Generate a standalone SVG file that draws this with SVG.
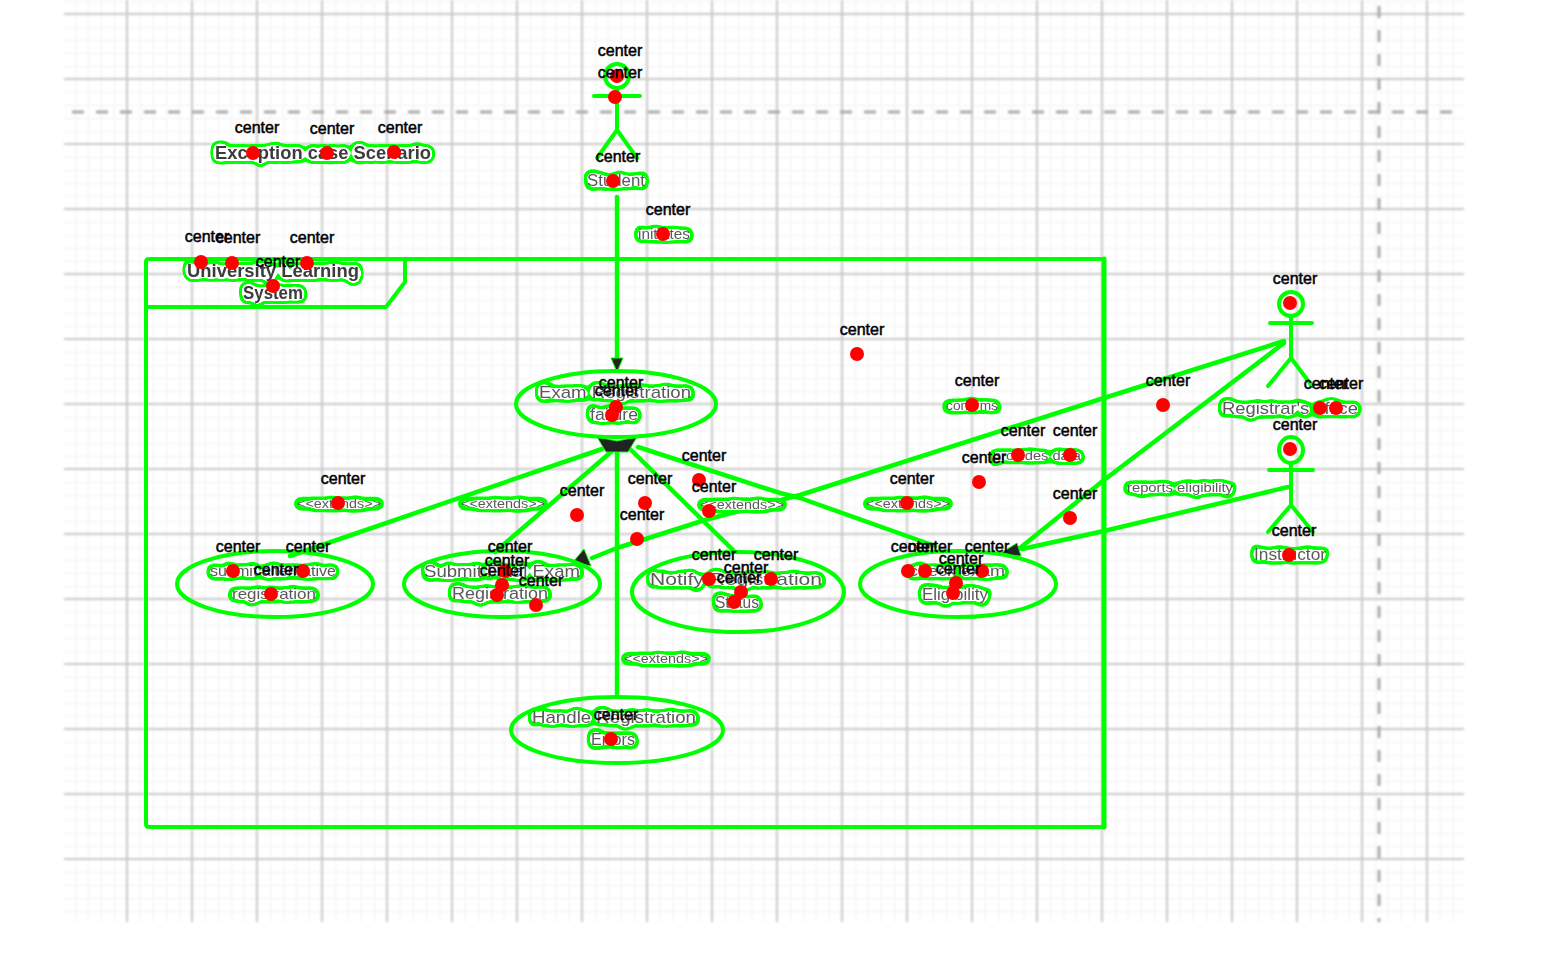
<svg xmlns="http://www.w3.org/2000/svg" width="1546" height="962" viewBox="0 0 1546 962">
<style>
.gm{stroke:#c8c8c8;stroke-width:2;fill:none}
.gn{stroke:#f2f2f2;stroke-width:2;fill:none}
.gd{stroke:#a8a8a8;stroke-width:3;fill:none;stroke-dasharray:12 12}
.s{stroke:#00ff00;stroke-width:4;fill:none;stroke-linejoin:round;stroke-linecap:round}
.c{stroke:#00ff00;stroke-width:4.5;fill:none;stroke-linecap:round;stroke-linejoin:round}
.d{fill:#ff0000}
.k{font-family:"Liberation Sans",Arial,sans-serif;font-size:16px;fill:#000;text-anchor:middle;stroke:#000;stroke-width:.5}
.t{font-family:"Liberation Sans",Arial,sans-serif;fill:#5a5a5a;text-anchor:middle;filter:url(#halo)}
.b{fill:#3c3c3c;font-weight:700}
.h{fill:#222;stroke:#00ff00;stroke-width:1}
</style>
<defs>
<filter id="soft" filterUnits="userSpaceOnUse" x="0" y="0" width="1546" height="962"><feGaussianBlur stdDeviation="0.9"/></filter>
<filter id="halo" filterUnits="userSpaceOnUse" x="0" y="0" width="1546" height="962" color-interpolation-filters="sRGB">
<feGaussianBlur in="SourceAlpha" stdDeviation="3" result="a"/>
<feComponentTransfer in="a" result="outer"><feFuncA type="linear" slope="60" intercept="-1.4"/></feComponentTransfer>
<feFlood flood-color="#00ff00"/><feComposite in2="outer" operator="in" result="green"/>
<feComponentTransfer in="a" result="inner"><feFuncA type="linear" slope="60" intercept="-8"/></feComponentTransfer>
<feFlood flood-color="#ffffff"/><feComposite in2="inner" operator="in" result="white"/>
<feGaussianBlur in="SourceGraphic" stdDeviation="0.65" result="blur"/>
<feMerge><feMergeNode in="green"/><feMergeNode in="white"/><feMergeNode in="blur"/></feMerge>
</filter>
<pattern id="minor" width="13" height="13" patternUnits="userSpaceOnUse" x="62" y="1">
<path d="M0 0V13M0 0H13" class="gn"/>
</pattern>
</defs>
<rect width="1546" height="962" fill="#fff"/>
<g id="grid" filter="url(#soft)">
<rect x="64" y="0" width="1400" height="922" fill="url(#minor)"/>
<path class="gm" d="M127 0V922M192 0V922M257 0V922M322 0V922M387 0V922M452 0V922M517 0V922M582 0V922M647 0V922M712 0V922M777 0V922M842 0V922M907 0V922M972 0V922M1037 0V922M1102 0V922M1167 0V922M1232 0V922M1297 0V922M1362 0V922M1427 0V922"/>
<path class="gm" d="M64 14H1464M64 79H1464M64 144H1464M64 209H1464M64 274H1464M64 339H1464M64 404H1464M64 469H1464M64 534H1464M64 599H1464M64 664H1464M64 729H1464M64 794H1464M64 859H1464"/>
<path class="gd" d="M72 112H1464"/>
<path class="gd" d="M1379 6V922"/>
</g>
<g id="system-boundary">
<path class="s" d="M149 259H1101Q1104 259 1104 262V824Q1104 827 1101 827H149Q146 827 146 824V262Q146 259 149 259Z"/>
<path class="s" d="M1104 259V827" style="stroke-width:5"/>
<path class="s" d="M146 307H386L405 282V259"/>
<text class="t b" x="273" y="277" font-size="18" textLength="172" lengthAdjust="spacingAndGlyphs">University Learning</text>
<text class="t b" x="273" y="299" font-size="18" textLength="60" lengthAdjust="spacingAndGlyphs">System</text>
</g>
<g id="caption"><text class="t b" x="323" y="159" font-size="18" textLength="216" lengthAdjust="spacingAndGlyphs">Exception case Scenario</text></g>
<g id="connectors">
<path class="c" d="M617 197V368"/>
<path class="h" d="M611 358H623L617 372Z"/>
<path class="c" d="M617 447V697"/>
<path class="c" d="M602 449L290 556"/>
<path class="c" d="M611 452L495 552"/>
<path class="c" d="M630 449L733 550"/>
<path class="c" d="M638 447L780 493L800 498L935 546"/>
<path class="c" d="M1284 341L1104 398L800 495L705 520L617 548L592 558"/>
<path class="c" d="M1284 343L1104 480L1020 548"/>
<path class="c" d="M1288 487L1104 531L1022 549"/>
<path class="h" d="M597 437L617 441L637 437L628 452H606Z"/>
<path class="h" d="M573 562L584 549L591 566Z"/>
<path class="h" d="M998 555L1017 543L1021 556Z"/>
</g>
<g id="student">
<ellipse class="s" cx="617" cy="76" rx="12" ry="12"/>
<path class="s" d="M617 88V130M594 96H640M617 130L597 158M617 130L637 158"/>
<text class="t" x="616" y="186" font-size="16" textLength="58" lengthAdjust="spacingAndGlyphs">Student</text>
</g>
<g id="registrar">
<ellipse class="s" cx="1291" cy="304" rx="12" ry="12"/>
<path class="s" d="M1291 316V358M1270 323H1312M1291 358L1268 386M1291 358L1312 386"/>
<text class="t" x="1290" y="414" font-size="17" textLength="136" lengthAdjust="spacingAndGlyphs">Registrar's office</text>
</g>
<g id="instructor">
<ellipse class="s" cx="1291" cy="450" rx="12" ry="13"/>
<path class="s" d="M1291 463V505M1269 470H1313M1291 505L1268 532M1291 505L1313 532"/>
<text class="t" x="1290" y="560" font-size="16" textLength="72" lengthAdjust="spacingAndGlyphs">Instructor</text>
</g>
<g id="exam-registration-failure">
<ellipse class="s" cx="616" cy="404" rx="100" ry="33"/>
<text class="t" x="615" y="398" font-size="17" textLength="152" lengthAdjust="spacingAndGlyphs">Exam Registration</text>
<text class="t" x="614" y="420" font-size="16" textLength="48" lengthAdjust="spacingAndGlyphs">failure</text>
</g>
<g id="submit-alternative">
<ellipse class="s" cx="275" cy="584" rx="98" ry="33"/>
<text class="t" x="273" y="576" font-size="15" textLength="126" lengthAdjust="spacingAndGlyphs">submit alternative</text>
<text class="t" x="274" y="599" font-size="15" textLength="84" lengthAdjust="spacingAndGlyphs">registration</text>
</g>
<g id="submit-exam">
<ellipse class="s" cx="502" cy="584" rx="98" ry="33"/>
<text class="t" x="502" y="577" font-size="17" textLength="156" lengthAdjust="spacingAndGlyphs">Submit Final Exam</text>
<text class="t" x="500" y="599" font-size="16" textLength="96" lengthAdjust="spacingAndGlyphs">Registration</text>
</g>
<g id="notify">
<ellipse class="s" cx="738" cy="592" rx="106" ry="40"/>
<text class="t" x="736" y="585" font-size="17" textLength="172" lengthAdjust="spacingAndGlyphs">Notify Registration</text>
<text class="t" x="737" y="608" font-size="17" textLength="44" lengthAdjust="spacingAndGlyphs">Status</text>
</g>
<g id="check-eligibility">
<ellipse class="s" cx="958" cy="584" rx="98" ry="33"/>
<text class="t" x="957" y="576" font-size="15" textLength="96" lengthAdjust="spacingAndGlyphs">check exam</text>
<text class="t" x="955" y="600" font-size="17" textLength="66" lengthAdjust="spacingAndGlyphs">Eligibility</text>
</g>
<g id="handle-errors">
<ellipse class="s" cx="617" cy="730" rx="106" ry="33"/>
<text class="t" x="614" y="723" font-size="17" textLength="164" lengthAdjust="spacingAndGlyphs">Handle Registration</text>
<text class="t" x="613" y="745" font-size="16" textLength="44" lengthAdjust="spacingAndGlyphs">Errors</text>
</g>
<g id="connector-labels">
<text class="t" x="664" y="239" font-size="14" textLength="52" lengthAdjust="spacingAndGlyphs">initiates</text>
<text class="t" x="339" y="508" font-size="12" textLength="84" lengthAdjust="spacingAndGlyphs">&lt;&lt;extends&gt;&gt;</text>
<text class="t" x="503" y="508" font-size="12" textLength="84" lengthAdjust="spacingAndGlyphs">&lt;&lt;extends&gt;&gt;</text>
<text class="t" x="742" y="509" font-size="12" textLength="84" lengthAdjust="spacingAndGlyphs">&lt;&lt;extends&gt;&gt;</text>
<text class="t" x="908" y="508" font-size="12" textLength="84" lengthAdjust="spacingAndGlyphs">&lt;&lt;extends&gt;&gt;</text>
<text class="t" x="666" y="663" font-size="12" textLength="84" lengthAdjust="spacingAndGlyphs">&lt;&lt;extends&gt;&gt;</text>
<text class="t" x="972" y="410" font-size="12" textLength="52" lengthAdjust="spacingAndGlyphs">confirms</text>
<text class="t" x="1037" y="460" font-size="13" textLength="88" lengthAdjust="spacingAndGlyphs">provides data</text>
<text class="t" x="1180" y="492" font-size="13" textLength="106" lengthAdjust="spacingAndGlyphs">reports eligibility</text>
</g>
<g id="center-markers">
<g class="d">
<circle cx="617" cy="76" r="7"/><circle cx="615" cy="97" r="7"/><circle cx="613" cy="181" r="7"/><circle cx="663" cy="234" r="7"/><circle cx="253" cy="153" r="7"/><circle cx="327" cy="153" r="7"/><circle cx="394" cy="152" r="7"/><circle cx="201" cy="262" r="7"/><circle cx="232" cy="263" r="7"/><circle cx="307" cy="263" r="7"/><circle cx="273" cy="286" r="7"/><circle cx="857" cy="354" r="7"/><circle cx="972" cy="405" r="7"/><circle cx="1163" cy="405" r="7"/><circle cx="1290" cy="303" r="7"/><circle cx="1320" cy="408" r="7"/><circle cx="1336" cy="408" r="7"/><circle cx="1290" cy="449" r="7"/><circle cx="1289" cy="555" r="7"/><circle cx="1018" cy="455" r="7"/><circle cx="1070" cy="455" r="7"/><circle cx="979" cy="482" r="7"/><circle cx="1070" cy="518" r="7"/><circle cx="907" cy="503" r="7"/><circle cx="338" cy="503" r="7"/><circle cx="577" cy="515" r="7"/><circle cx="645" cy="503" r="7"/><circle cx="637" cy="539" r="7"/><circle cx="699" cy="480" r="7"/><circle cx="709" cy="511" r="7"/><circle cx="616" cy="407" r="7"/><circle cx="612" cy="415" r="7"/><circle cx="233" cy="571" r="7"/><circle cx="303" cy="571" r="7"/><circle cx="271" cy="594" r="7"/><circle cx="505" cy="571" r="7"/><circle cx="502" cy="585" r="7"/><circle cx="497" cy="595" r="7"/><circle cx="536" cy="605" r="7"/><circle cx="709" cy="579" r="7"/><circle cx="771" cy="579" r="7"/><circle cx="741" cy="592" r="7"/><circle cx="734" cy="602" r="7"/><circle cx="908" cy="571" r="7"/><circle cx="925" cy="571" r="7"/><circle cx="982" cy="571" r="7"/><circle cx="956" cy="583" r="7"/><circle cx="953" cy="593" r="7"/><circle cx="611" cy="739" r="7"/>
</g>
<g>
<text class="k" x="620" y="56">center</text><text class="k" x="620" y="78">center</text><text class="k" x="618" y="162">center</text><text class="k" x="668" y="215">center</text><text class="k" x="257" y="133">center</text><text class="k" x="332" y="134">center</text><text class="k" x="400" y="133">center</text><text class="k" x="207" y="242">center</text><text class="k" x="238" y="243">center</text><text class="k" x="312" y="243">center</text><text class="k" x="278" y="267">center</text><text class="k" x="862" y="335">center</text><text class="k" x="977" y="386">center</text><text class="k" x="1168" y="386">center</text><text class="k" x="1295" y="284">center</text><text class="k" x="1326" y="389">center</text><text class="k" x="1341" y="389">center</text><text class="k" x="1295" y="430">center</text><text class="k" x="1294" y="536">center</text><text class="k" x="1023" y="436">center</text><text class="k" x="1075" y="436">center</text><text class="k" x="984" y="463">center</text><text class="k" x="1075" y="499">center</text><text class="k" x="912" y="484">center</text><text class="k" x="343" y="484">center</text><text class="k" x="582" y="496">center</text><text class="k" x="650" y="484">center</text><text class="k" x="642" y="520">center</text><text class="k" x="704" y="461">center</text><text class="k" x="714" y="492">center</text><text class="k" x="621" y="388">center</text><text class="k" x="617" y="396">center</text><text class="k" x="238" y="552">center</text><text class="k" x="308" y="552">center</text><text class="k" x="276" y="575">center</text><text class="k" x="510" y="552">center</text><text class="k" x="507" y="566">center</text><text class="k" x="502" y="576">center</text><text class="k" x="541" y="586">center</text><text class="k" x="714" y="560">center</text><text class="k" x="776" y="560">center</text><text class="k" x="746" y="573">center</text><text class="k" x="739" y="583">center</text><text class="k" x="913" y="552">center</text><text class="k" x="930" y="552">center</text><text class="k" x="987" y="552">center</text><text class="k" x="961" y="564">center</text><text class="k" x="958" y="574">center</text><text class="k" x="616" y="720">center</text>
</g>
</g>
</svg>
